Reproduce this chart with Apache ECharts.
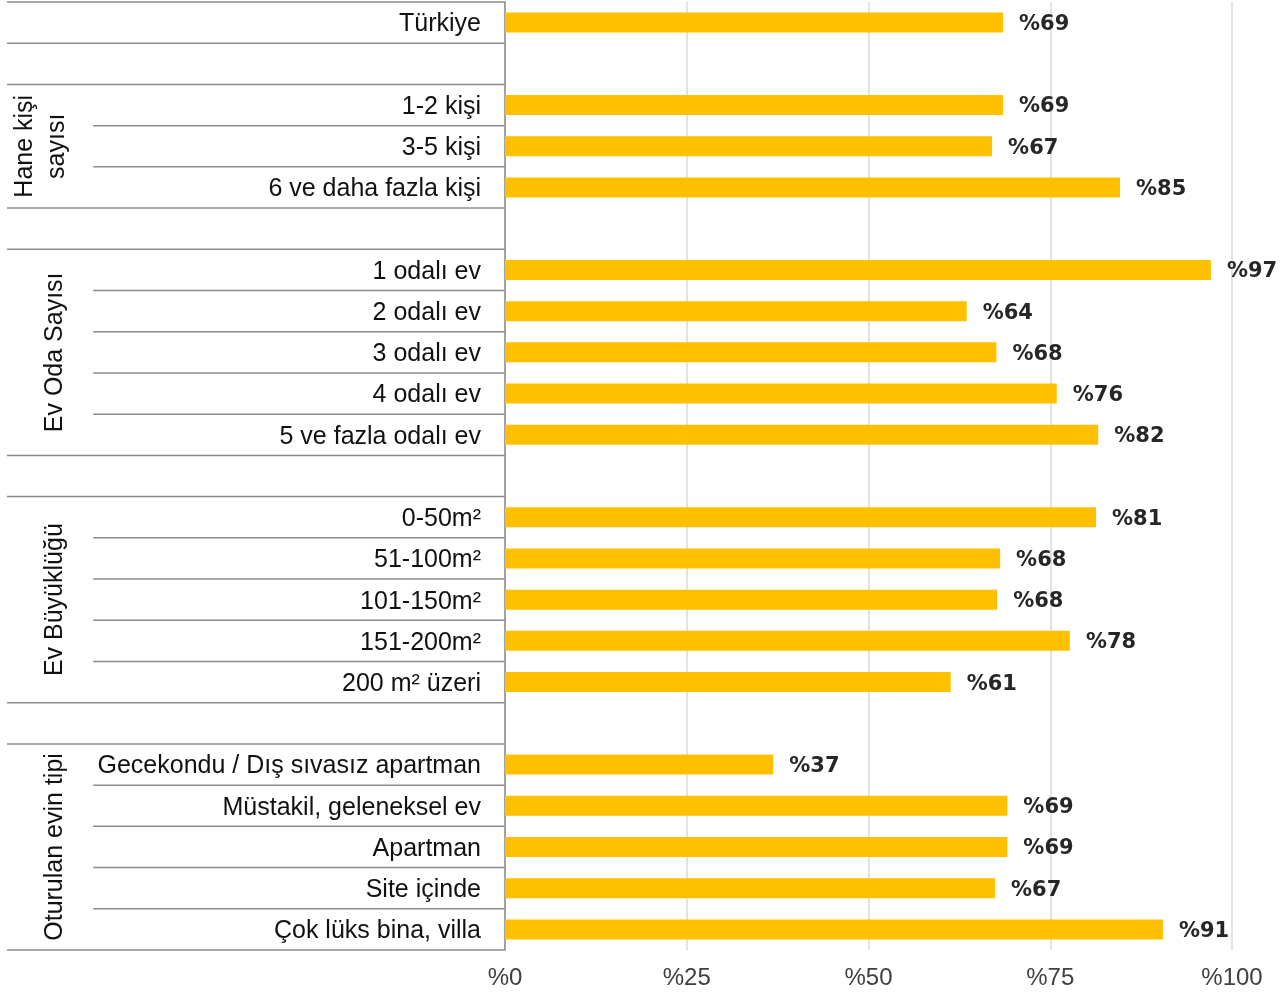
<!DOCTYPE html>
<html><head><meta charset="utf-8">
<script src="https://cdn.jsdelivr.net/npm/echarts@6/dist/echarts.min.js"></script>
<style>html,body{margin:0;padding:0;background:#fff}#c{width:1284px;height:996px}</style>
</head><body><div id="c"></div>
<script>
const categories = ['Türkiye', '', '1-2 kişi', '3-5 kişi', '6 ve daha fazla kişi', '',
  '1 odalı ev', '2 odalı ev', '3 odalı ev', '4 odalı ev', '5 ve fazla odalı ev', '',
  '0-50m²', '51-100m²', '101-150m²', '151-200m²', '200 m² üzeri', '',
  'Gecekondu / Dış sıvasız apartman', 'Müstakil, geleneksel ev', 'Apartman', 'Site içinde', 'Çok lüks bina, villa'];
const values = [68.5, null, 68.5, 67.0, 84.6, null,
  97.1, 63.5, 67.6, 75.9, 81.6, null,
  81.3, 68.1, 67.7, 77.7, 61.3, null,
  36.9, 69.1, 69.1, 67.4, 90.5];
const valueLabels = [69, null, 69, 67, 85, null,
  97, 64, 68, 76, 82, null,
  81, 68, 68, 78, 61, null,
  37, 69, 69, 67, 91];
const groupNames = ['Hane kişi\nsayısı', 'Ev Oda Sayısı', 'Ev Büyüklüğü', 'Oturulan evin tipi'];
const groupStart = [2, 6, 12, 18];
const groupEnd = [4, 10, 16, 22];
const groupLabelX = [6.8, 9.6, 9.6, 9.6];
const xTickMin = 0, xTickMax = 100, xTickStep = 25;

const SUB_INDENT = 17.3;
const LINE = '#8c8c8c';
const CAT_FONT = '"Liberation Sans", Arial, sans-serif';

// separator rows: [startX, row, side]
const sepData = [[0, 0, -1]];
for (let i = 0; i < categories.length; i++) {
  const last = i === categories.length - 1;
  const full = i === 0 || categories[i] === '' || last || categories[i + 1] === '';
  sepData.push([full ? 0 : SUB_INDENT, i, 1]);
}
const groupData = groupNames.map((n, i) => [groupLabelX[i], groupStart[i], groupEnd[i], i]);

const chart = echarts.init(document.getElementById('c'), null, {renderer: 'canvas'});
chart.setOption({
  animation: false,
  backgroundColor: '#fff',
  grid: [
    {left: 505, right: 52, top: 2, bottom: 46},
    {left: 7, right: 779, top: 2, bottom: 46}
  ],
  xAxis: [
    {type: 'value', gridIndex: 0, min: xTickMin, max: xTickMax, interval: xTickStep,
      axisLine: {show: false}, axisTick: {show: false},
      splitLine: {show: true, lineStyle: {color: '#d9d9d9', width: 1.5}},
      axisLabel: {formatter: v => '%' + v, margin: 16, color: '#404040',
        fontSize: 24, fontFamily: '"Liberation Sans Narrow", "Liberation Sans", sans-serif'}},
    {type: 'value', gridIndex: 1, min: 0, max: 100, show: false}
  ],
  yAxis: [
    {type: 'category', gridIndex: 0, data: categories, inverse: true,
      axisLine: {show: true, lineStyle: {color: LINE, width: 1.5}},
      axisTick: {show: false}, splitLine: {show: false},
      axisLabel: {margin: 24, formatter: v => v === '' ? '' : '{c|' + v + '}',
        rich: {c: {color: '#111', fontSize: 25, fontFamily: CAT_FONT, padding: [4, 0, 0, 0]}}}},
    {type: 'category', gridIndex: 1, data: categories, inverse: true, show: false}
  ],
  series: [
    {type: 'bar', xAxisIndex: 0, yAxisIndex: 0, data: values, barWidth: 20,
      itemStyle: {color: '#FFC000'},
      label: {show: true, position: 'right', distance: 16, offset: [0, 2],
        formatter: p => valueLabels[p.dataIndex] == null ? '' : '%' + valueLabels[p.dataIndex],
        color: '#262626', fontWeight: 'bold', fontSize: 21,
        fontFamily: '"DejaVu Sans", sans-serif'}},
    {type: 'custom', xAxisIndex: 1, yAxisIndex: 1, silent: true, clip: false,
      encode: {x: 0, y: 1}, data: sepData,
      renderItem: (params, api) => {
        const x0 = api.value(0), row = api.value(1), side = api.value(2);
        const c0 = api.coord([x0, row]);
        const c1 = api.coord([100, row]);
        const h = api.size([0, 1])[1];
        const y = c0[1] + side * h / 2;
        return {type: 'line', shape: {x1: c0[0], y1: y, x2: c1[0], y2: y},
          style: {stroke: LINE, lineWidth: 1.5}};
      }},
    {type: 'custom', xAxisIndex: 1, yAxisIndex: 1, silent: true, clip: false,
      encode: {x: 0, y: 1}, data: groupData,
      renderItem: (params, api) => {
        const x = api.value(0), s = api.value(1), e = api.value(2), idx = api.value(3);
        const cS = api.coord([x, s]), cE = api.coord([x, e]);
        return {type: 'text', x: cS[0], y: (cS[1] + cE[1]) / 2, rotation: Math.PI / 2,
          style: {text: groupNames[idx], fill: '#111', fontSize: 25, fontFamily: CAT_FONT,
            align: 'center', verticalAlign: 'middle', lineHeight: 32}};
      }}
  ]
});
</script></body></html>
